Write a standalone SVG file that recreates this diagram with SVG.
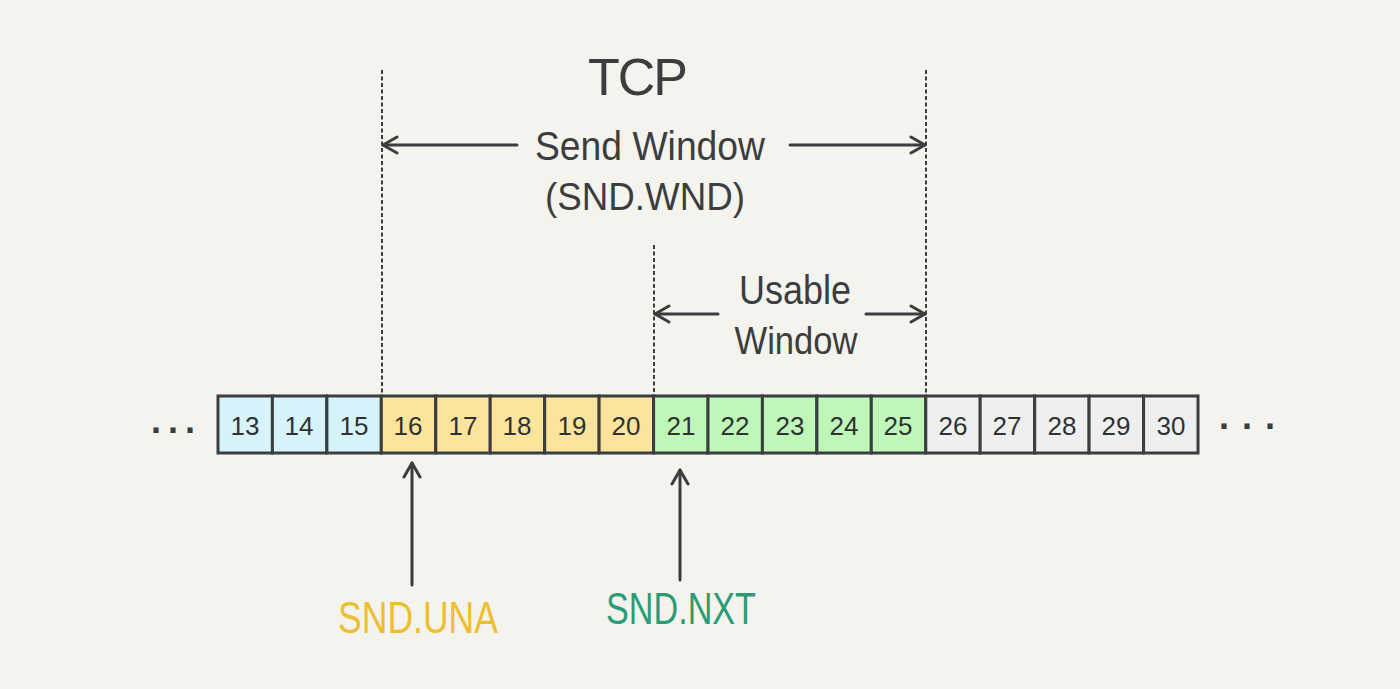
<svg xmlns="http://www.w3.org/2000/svg" width="1400" height="689" viewBox="0 0 1400 689">
<style>
.ln{stroke:#3b3e3e;stroke-width:3;fill:none;stroke-linecap:round}
.dash{stroke:#3b3e3e;stroke-width:2;stroke-dasharray:4 2.5;fill:none}
.cell{stroke:#3b3e3e;stroke-width:3}
.num{font-family:"Liberation Sans",sans-serif;font-size:26px;fill:#2f3232;text-anchor:middle}
.lbl{font-family:"Liberation Sans",sans-serif;fill:#3b3e3e;text-anchor:middle}
.dots{font-family:"Liberation Sans",sans-serif;font-weight:bold;fill:#3b3e3e;text-anchor:middle}
.b{fill:#d7f3fa}.y{fill:#fde49d}.g{fill:#bff7b9}.w{fill:#efefef}
</style>
<defs>
<marker id="ah" viewBox="0 0 20 20" refX="18" refY="10" markerWidth="20" markerHeight="20" markerUnits="userSpaceOnUse" orient="auto-start-reverse">
<path d="M4,2 L18,10 L4,18" fill="none" stroke="#3b3e3e" stroke-width="3" stroke-linecap="round" stroke-linejoin="round"/>
</marker>
</defs>
<rect width="1400" height="689" fill="#f5f3ee"/>
<g id="connectors">
<line class="dash" x1="382" y1="70" x2="382" y2="396"/>
<line class="dash" x1="926" y1="70" x2="926" y2="396"/>
<line class="dash" x1="654" y1="245" x2="654" y2="396"/>
<line class="ln" x1="517" y1="145" x2="383" y2="145" marker-end="url(#ah)"/>
<line class="ln" x1="790" y1="145" x2="925" y2="145" marker-end="url(#ah)"/>
<line class="ln" x1="718" y1="314" x2="655" y2="314" marker-end="url(#ah)"/>
<line class="ln" x1="866" y1="314" x2="925" y2="314" marker-end="url(#ah)"/>
<line class="ln" x1="412" y1="585" x2="412" y2="463" marker-end="url(#ah)"/>
<line class="ln" x1="680" y1="580" x2="680" y2="470" marker-end="url(#ah)"/>
</g>
<g id="title">
<text class="lbl" x="638" y="95" font-size="52" textLength="100">TCP</text>
<text class="lbl" x="650" y="160" font-size="40" textLength="230" lengthAdjust="spacingAndGlyphs">Send Window</text>
<text class="lbl" x="645" y="210" font-size="38" textLength="200" lengthAdjust="spacingAndGlyphs">(SND.WND)</text>
</g>
<g id="usable">
<text class="lbl" x="795" y="304" font-size="40" textLength="112" lengthAdjust="spacingAndGlyphs">Usable</text>
<text class="lbl" x="796" y="354" font-size="38" textLength="123" lengthAdjust="spacingAndGlyphs">Window</text>
</g>
<g id="cells">
<rect class="cell b" x="218" y="396" width="54.4" height="57"/>
<rect class="cell b" x="272.4" y="396" width="54.4" height="57"/>
<rect class="cell b" x="326.9" y="396" width="54.4" height="57"/>
<rect class="cell y" x="381.3" y="396" width="54.4" height="57"/>
<rect class="cell y" x="435.8" y="396" width="54.4" height="57"/>
<rect class="cell y" x="490.2" y="396" width="54.4" height="57"/>
<rect class="cell y" x="544.7" y="396" width="54.4" height="57"/>
<rect class="cell y" x="599.1" y="396" width="54.4" height="57"/>
<rect class="cell g" x="653.6" y="396" width="54.4" height="57"/>
<rect class="cell g" x="708" y="396" width="54.4" height="57"/>
<rect class="cell g" x="762.4" y="396" width="54.4" height="57"/>
<rect class="cell g" x="816.9" y="396" width="54.4" height="57"/>
<rect class="cell g" x="871.3" y="396" width="54.4" height="57"/>
<rect class="cell w" x="925.8" y="396" width="54.4" height="57"/>
<rect class="cell w" x="980.2" y="396" width="54.4" height="57"/>
<rect class="cell w" x="1034.7" y="396" width="54.4" height="57"/>
<rect class="cell w" x="1089.1" y="396" width="54.4" height="57"/>
<rect class="cell w" x="1143.6" y="396" width="54.4" height="57"/>
<text class="num" x="245" y="435">13</text>
<text class="num" x="299" y="435">14</text>
<text class="num" x="354" y="435">15</text>
<text class="num" x="408" y="435">16</text>
<text class="num" x="463" y="435">17</text>
<text class="num" x="517" y="435">18</text>
<text class="num" x="572" y="435">19</text>
<text class="num" x="626" y="435">20</text>
<text class="num" x="681" y="435">21</text>
<text class="num" x="735" y="435">22</text>
<text class="num" x="790" y="435">23</text>
<text class="num" x="844" y="435">24</text>
<text class="num" x="898" y="435">25</text>
<text class="num" x="953" y="435">26</text>
<text class="num" x="1007" y="435">27</text>
<text class="num" x="1062" y="435">28</text>
<text class="num" x="1116" y="435">29</text>
<text class="num" x="1171" y="435">30</text>
</g>
<g id="dots">
<text class="dots" x="173" y="433" font-size="36" textLength="44">...</text>
<text class="dots" x="1247" y="429" font-size="36" textLength="56">...</text>
</g>
<g id="snd-una">
<text class="lbl" x="418" y="633" font-size="44" textLength="160" lengthAdjust="spacingAndGlyphs" style="fill:#ecbf2e">SND.UNA</text>
</g>
<g id="snd-nxt">
<text class="lbl" x="681" y="624" font-size="44" textLength="150" lengthAdjust="spacingAndGlyphs" style="fill:#2a9d78">SND.NXT</text>
</g>
</svg>
